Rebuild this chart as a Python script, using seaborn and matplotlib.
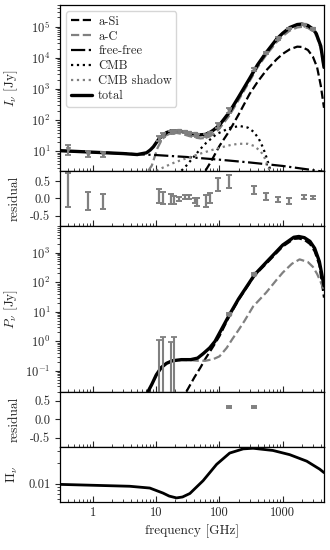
import numpy as np
import matplotlib
matplotlib.use("Agg")
import matplotlib.pyplot as plt
import matplotlib.ticker as mticker
import seaborn as sns

# ---------------- data ----------------
# Intensity model curves (GHz, Jy)
f_tot = [0.3, 1, 3, 5, 7, 8, 9, 10, 11, 12.5, 14.5, 17, 21, 26, 33, 40, 50, 60, 70, 80, 90, 100,
         143, 200, 300, 400, 550, 800, 1000, 1300, 1700, 2000, 2500, 3000, 3400, 4000, 4500]
I_tot = [10.5, 9.4, 8.5, 7.9, 9.0, 11, 14, 19, 25, 32, 40, 45, 46, 43, 38, 35, 34, 35, 40, 48, 58, 70,
         180, 550, 2200, 6000, 15000, 40000, 62000, 95000, 118000, 122000, 110000, 85000, 60000, 24000, 5000]

f_aC = [7.5, 8.5, 9.5, 10.5, 12, 14, 17, 21, 26, 33, 40, 50, 60, 70, 80, 90, 100,
        143, 200, 300, 400, 550, 800, 1000, 1300, 1700, 2000, 2500, 3000, 3400, 4000, 4500]
I_aC = [2.4, 3.5, 7, 13, 22, 32, 38, 39, 36, 31, 28, 26, 27, 30, 36, 44, 54,
        140, 440, 1800, 5000, 12500, 32000, 50000, 76000, 95000, 99000, 92000, 72000, 52000, 20000, 4500]

f_aSi = [60, 70, 80, 100, 143, 200, 300, 400, 550, 800, 1000, 1300, 1700, 2000, 2500, 3000, 3500, 4000, 4500]
I_aSi = [2.4, 4, 6.5, 15, 45, 150, 700, 1700, 4000, 9000, 13500, 19000, 23000, 22500, 18000, 11000, 5000, 1300, 250]

f_ff = [0.3, 1, 3, 10, 30, 100, 300, 1000, 3000, 4500]
I_ff = [10.5, 9.4, 8.5, 7.6, 6.6, 5.4, 4.4, 3.4, 2.5, 2.2]

f_cmb = [25, 30, 40, 50, 62, 90, 150, 210, 280, 350, 420, 490, 560, 620, 660]
I_cmb = [2.4, 3.5, 7, 12, 19, 36, 58, 65, 58, 42, 25, 13, 6, 3, 2]

f_shadow = [10, 15, 20, 30, 50, 70, 100, 150, 200, 280, 350, 450, 520, 580, 630]
I_shadow = [2.4, 3.5, 4.5, 6, 8.5, 10.5, 13, 16, 17.5, 17.5, 15, 10, 6, 3.5, 2.2]

# Intensity data and residuals
f_obs = [0.408, 0.82, 1.42, 11, 13, 17, 19, 22.8, 28.4, 33, 41, 44.1, 61, 70.4, 94,
         143, 353, 545, 857, 1249, 2141, 2998]
I_obs = [12, 8.5, 8.0, 26, 33, 41, 43, 45, 43, 40, 35, 33, 32, 38, 68,
         210, 4300, 14500, 42000, 88000, 118000, 85000]
I_err = [4.5, 1.8, 1.5, 5, 5, 5, 5, 3, 3, 3, 3, 3, 4, 5, 12,
         35, 500, 1500, 3500, 6000, 7000, 5000]
res_I = [0.24, -0.08, -0.1, 0.07, 0.0, -0.03, -0.05, -0.02, 0.03, 0.03, -0.06, -0.1, -0.08, 0.0, 0.4,
         0.48, 0.24, 0.05, -0.04, -0.08, 0.04, 0.02]
res_I_err = [0.48, 0.27, 0.22, 0.2, 0.18, 0.15, 0.12, 0.06, 0.06, 0.06, 0.08, 0.11, 0.18, 0.14, 0.2,
             0.19, 0.12, 0.1, 0.07, 0.08, 0.06, 0.05]

# Polarised model curves
f_Ptot = [7.4, 8.5, 10, 12, 14.5, 18, 25, 35, 45, 55, 70, 85, 100, 145, 200, 360, 555, 1000,
          1500, 1800, 2200, 2700, 3200, 3800, 4500]
P_tot = [0.02, 0.035, 0.073, 0.13, 0.18, 0.22, 0.24, 0.24, 0.27, 0.38, 0.6, 1.0, 1.9, 8.2, 27, 180, 480, 1800,
         3300, 3500, 3200, 2400, 1400, 500, 75]

f_PaC = [7.4, 8.5, 10, 12, 14.5, 18, 25, 35, 45, 60, 80, 100, 130, 160, 200, 250, 340, 550, 800, 1000,
         1400, 1850, 2500, 3000, 3500, 4000, 4500]
P_aC = [0.02, 0.035, 0.073, 0.13, 0.18, 0.22, 0.235, 0.23, 0.22, 0.22, 0.25, 0.31, 0.6, 1.2, 2.4, 5, 15, 45, 120, 210,
        420, 590, 480, 330, 190, 100, 55]

f_PaSi = [30, 40, 50, 60, 80, 100, 145, 200, 360, 555, 1000, 1500, 1800, 2200, 2700, 3200, 3800, 4500]
P_aSi = [0.02, 0.06, 0.13, 0.26, 0.68, 1.5, 7.5, 25, 170, 430, 1600, 2900, 3000, 2700, 1950, 1100, 380, 30]

# Polarised data and residuals
f_Pobs = [11, 13, 17, 19, 143, 353]
P_obs = [0.0, 0.0, 0.0, 0.0, 8.5, 190]
P_err = [1.15, 1.37, 0.95, 1.37, 0.8, 15]
f_Pres = [143, 353]
res_P = [0.33, 0.33]
res_P_err = [0.04, 0.04]

# Polarisation fraction
f_Pi = [0.3, 3.8, 7.9, 12.8, 16, 20.9, 26, 34, 55, 90, 145, 237, 340, 700, 1290, 2400, 3850, 4500]
Pi = [0.0098, 0.0092, 0.00866, 0.0073, 0.0066, 0.0062, 0.0064, 0.0072, 0.0111, 0.0193, 0.0283, 0.0326,
      0.0333, 0.0309, 0.0268, 0.0215, 0.0164, 0.0146]

# ---------------- style ----------------
sns.set_style("ticks")
plt.rcParams.update({
    "font.family": "serif",
    "font.serif": ["cmr10"],
    "mathtext.fontset": "cm",
    "axes.formatter.use_mathtext": True,
    "font.size": 9,
    "axes.labelsize": 9.6,
    "xtick.labelsize": 9,
    "ytick.labelsize": 9,
    "axes.linewidth": 0.9,
    "axes.edgecolor": "black",
})

GREY = "#808080"

fig = plt.figure(figsize=(3.3, 5.5), dpi=100)
gs = fig.add_gridspec(5, 1, height_ratios=[3, 1, 3, 1, 1], hspace=0,
                      left=60 / 330, right=324 / 330, top=1 - 5 / 550, bottom=1 - 502 / 550)
axI = fig.add_subplot(gs[0])
axR1 = fig.add_subplot(gs[1], sharex=axI)
axP = fig.add_subplot(gs[2], sharex=axI)
axR2 = fig.add_subplot(gs[3], sharex=axI)
axPi = fig.add_subplot(gs[4], sharex=axI)
axes = [axI, axR1, axP, axR2, axPi]

for ax in axes:
    ax.set_xscale("log")
for ax in (axI, axP, axPi):
    ax.set_yscale("log")

# ---- Panel 1: intensity ----
comp_lw = 1.6
sns.lineplot(x=f_aSi, y=I_aSi, ax=axI, color="black", linestyle="--", lw=comp_lw, label="a-Si", estimator=None)
sns.lineplot(x=f_aC, y=I_aC, ax=axI, color=GREY, linestyle="--", lw=comp_lw, label="a-C", estimator=None)
sns.lineplot(x=f_ff, y=I_ff, ax=axI, color="black", linestyle="-.", lw=comp_lw, label="free-free", estimator=None)
sns.lineplot(x=f_cmb, y=I_cmb, ax=axI, color="black", linestyle=":", lw=comp_lw, label="CMB", estimator=None)
sns.lineplot(x=f_shadow, y=I_shadow, ax=axI, color=GREY, linestyle=":", lw=comp_lw, label="CMB shadow", estimator=None)
sns.lineplot(x=f_tot, y=I_tot, ax=axI, color="black", linestyle="-", lw=2.4, label="total", estimator=None)
axI.errorbar(f_obs, I_obs, yerr=I_err, fmt="v", ms=2.8, color=GREY, ecolor=GREY,
             elinewidth=1.5, capsize=2, capthick=1.3, zorder=5)
axI.set_ylim(2.4, 5e5)
axI.set_ylabel(r"$I_\nu$ [Jy]")
axI.legend(loc="upper left", fontsize=9, handlelength=1.7, labelspacing=0.22,
           borderpad=0.35, handletextpad=0.5, frameon=True, fancybox=True)

# ---- residual 1 ----
axR1.errorbar(f_obs, res_I, yerr=res_I_err, fmt="none", ecolor=GREY,
              elinewidth=1.6, capsize=2.2, capthick=1.4)
axR1.set_ylim(-0.8, 0.8)
axR1.set_yticks([-0.5, 0.0, 0.5])
axR1.yaxis.set_major_formatter(mticker.FormatStrFormatter("%.1f"))
axR1.set_ylabel("residual")

# ---- Panel 3: polarised ----
sns.lineplot(x=f_PaSi, y=P_aSi, ax=axP, color="black", linestyle="--", lw=comp_lw, estimator=None)
sns.lineplot(x=f_PaC, y=P_aC, ax=axP, color=GREY, linestyle="--", lw=comp_lw, estimator=None)
sns.lineplot(x=f_Ptot, y=P_tot, ax=axP, color="black", linestyle="-", lw=2.4, estimator=None)
axP.errorbar(f_Pobs, P_obs, yerr=P_err, fmt="o", ms=3, color=GREY, ecolor=GREY,
             elinewidth=1.5, capsize=2, capthick=1.3, zorder=5)
axP.set_ylim(0.02, 8000)
axP.set_ylabel(r"$P_\nu$ [Jy]")

# ---- residual 2 ----
axR2.errorbar(f_Pres, res_P, yerr=res_P_err, fmt="none", ecolor=GREY,
              elinewidth=1.6, capsize=2.2, capthick=1.4)
axR2.set_ylim(-0.75, 0.75)
axR2.set_yticks([-0.5, 0.0, 0.5])
axR2.yaxis.set_major_formatter(mticker.FormatStrFormatter("%.1f"))
axR2.set_ylabel("residual")

# ---- Pi ----
sns.lineplot(x=f_Pi, y=Pi, ax=axPi, color="black", linestyle="-", lw=2.0, estimator=None)
axPi.set_ylim(0.0054, 0.035)
axPi.yaxis.set_major_locator(mticker.FixedLocator([0.01]))
axPi.yaxis.set_major_formatter(mticker.FuncFormatter(lambda v, _: "0.01"))
axPi.yaxis.set_minor_locator(mticker.LogLocator(base=10, subs=np.arange(2, 10), numticks=20))
axPi.yaxis.set_minor_formatter(mticker.NullFormatter())
axPi.set_ylabel(r"$\Pi_\nu$")
axPi.set_xlabel("frequency [GHz]")

# ---- shared x axis ----
axI.set_xlim(0.3, 4500)
axPi.xaxis.set_major_locator(mticker.LogLocator(base=10, numticks=20))
axPi.xaxis.set_minor_locator(mticker.LogLocator(base=10, subs=np.arange(2, 10), numticks=20))
axPi.xaxis.set_major_formatter(mticker.FuncFormatter(lambda v, _: f"{v:g}"))
axPi.xaxis.set_minor_formatter(mticker.NullFormatter())

for ax in (axI, axP):
    ax.yaxis.set_major_locator(mticker.LogLocator(base=10, numticks=20))
    ax.yaxis.set_minor_locator(mticker.LogLocator(base=10, subs=np.arange(2, 10), numticks=20))
    ax.yaxis.set_minor_formatter(mticker.NullFormatter())

for ax in axes:
    ax.tick_params(axis="x", which="both", direction="in", top=False, bottom=True)
    ax.tick_params(axis="x", which="major", length=4, width=0.8)
    ax.tick_params(axis="x", which="minor", length=2, width=0.6)
    ax.tick_params(axis="y", which="major", direction="out", length=3.5, width=0.8)
    ax.tick_params(axis="y", which="minor", direction="out", length=2, width=0.6)
    ax.yaxis.set_label_coords(-0.15, 0.5)
    for s in ax.spines.values():
        s.set_visible(True)
for ax in axes[:-1]:
    ax.tick_params(axis="x", labelbottom=False)
    ax.set_xlabel("")

fig.savefig("out.png", dpi=100)
